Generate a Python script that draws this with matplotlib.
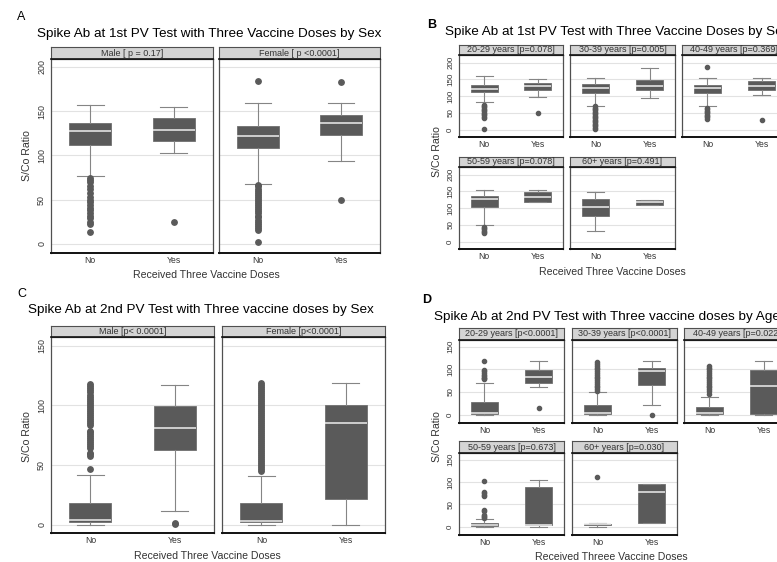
import matplotlib.pyplot as plt

plt.rcParams['font.family'] = ['Liberation Sans', 'DejaVu Sans']

W, H = 777, 562
fig = plt.figure(figsize=(W / 100, H / 100), dpi=100)

box_col = '#5a5a5a'
whisk_col = '#858585'
med_col = '#eeeeee'
grid_col = '#e2e2e2'
strip_col = '#d4d4d4'

groups = ["No", "Yes"]

# five-number summaries per facet: (whislo, q1, med, q3, whishi) for No / Yes
a_facets = ["Male [ p = 0.17]", "Female [ p <0.0001]"]
a_boxes = [[(76.7, 111.7, 127.5, 136.2, 157.0), (102.4, 116.6, 128.7, 141.8, 154.3)],
           [(68.0, 108.0, 122.2, 133.5, 159.5), (93.7, 123.0, 136.2, 145.6, 158.8)]]
a_fliers = [[[13.5, 22, 25, 29, 32, 35, 38, 41, 44, 47, 50, 53, 58, 62, 65, 70, 72, 74], [24.5]],
            [[1.9, 16, 18, 20.5, 23, 25, 27.5, 30, 32, 34.5, 37, 39, 41.5, 44, 46, 48.5, 51,
              53, 55.5, 58, 60, 62.5, 65, 66.5, 184.3], [49.7, 183.2]]]

b_facets = ["20-29 years [p=0.078]", "30-39 years [p=0.005]", "40-49 years [p=0.369]",
            "50-59 years [p=0.078]", "60+ years [p=0.491]"]
b_boxes = [[(82, 112, 122, 134, 158.6), (98, 118, 130, 140, 150)],
           [(72, 109, 124, 136, 154), (94, 119, 131, 147, 183.6)],
           [(71.4, 109, 124, 134, 154), (104, 119, 131, 144, 154)],
           [(50, 103, 126, 136, 154), (118, 119, 134, 147, 154)],
           [(33, 77, 103, 126, 149), (110, 110, 117, 124, 124)]]
b_fliers = [[[2, 35, 39, 43, 47, 51, 55, 59, 63, 67, 71, 74], [50]],
            [[2, 6, 10, 14, 18, 22, 26, 30, 34, 38, 42, 46, 50, 54, 58, 62, 66, 70], []],
            [[33, 37, 41, 45, 49, 53, 57, 61, 64.5, 185.4], [27.7]],
            [[25, 29, 33, 37, 41, 45], []],
            [[], []]]

c_facets = ["Male [p< 0.0001]", "Female [p<0.0001]"]
c_boxes = [[(0, 2.2, 3.9, 18.1, 41.8), (11.4, 62.4, 81.1, 99.7, 117.0)],
           [(0, 2.2, 3.3, 18.1, 41.3), (0, 21.7, 85.5, 100.6, 119.0)]]
c_fliers = [[[46.5, 57.5, 59, 60.5, 64.5, 66, 67.5, 69, 71, 72.5, 74, 76, 77.5, 79, 84, 85.5,
              87, 89, 90.5, 92, 94, 95.5, 97, 99, 100.5, 102, 104, 105.5, 107, 109, 111,
              112.5, 114.5, 116, 117.5], [0.5, 1.5]],
            [[45.5, 47, 48.5, 50, 52, 53.5, 55, 57, 58.5, 60, 62, 63.5, 65, 67, 68.5, 70, 72,
              73.5, 75, 77, 78.5, 80, 82, 83.5, 85, 87, 88.5, 90, 92, 93.5, 95, 97, 98.5, 100,
              102, 103.5, 105, 107, 108.5, 110, 112, 113.5, 115, 117, 119], []]]

d_facets = ["20-29 years [p<0.0001]", "30-39 years [p<0.0001]", "40-49 years [p=0.022]",
            "50-59 years [p=0.673]", "60+ years [p=0.030]"]
d_boxes = [[(0, 1.5, 3, 27.5, 70.8), (61, 70.8, 83, 99.7, 118)],
           [(0, 1.5, 3, 21.6, 50), (21.6, 64.7, 96.7, 102, 118)],
           [(0, 1.5, 3.7, 16.4, 40), (0, 1.5, 63, 98, 118)],
           [(0, 2, 3.5, 8.8, 17.6), (0, 3, 4, 88, 104)],
           [(0, 3, 5, 6.6, 9), (9, 9, 78.6, 95.6, 95.6)]]
d_fliers = [[[78, 80, 82, 85, 88, 92, 96, 98, 118], [14]],
            [[52, 56, 60, 64, 68, 72, 76, 80, 84, 88, 92, 96, 100, 104, 108, 112, 116], [0]],
            [[46, 52, 56, 60, 64, 68, 72, 76, 80, 84, 88, 92, 96, 100, 104, 108], []],
            [[20, 22, 25, 27, 35, 38, 69, 72, 75, 77, 102], []],
            [[112], []]]


def px_axes(x0, y0, x1, y1):
    return fig.add_axes([x0 / W, 1 - y1 / H, (x1 - x0) / W, (y1 - y0) / H])


def ftext(x, y, s, **kw):
    fig.text(x / W, 1 - y / H, s, **kw)


def facet(x0, x1, strip_top, top, bottom, label, boxes, fliers, ylim, yticks,
          show_y, small):
    ax = px_axes(x0, top, x1, bottom)
    stats = []
    for (lo, q1, med, q3, hi), fl in zip(boxes, fliers):
        stats.append(dict(whislo=lo, q1=q1, med=med, q3=q3, whishi=hi, fliers=fl))
    ms = 3.0 if small else 3.9
    ax.bxp(stats, positions=[1, 2], widths=0.5, capwidths=0.32, patch_artist=True,
           boxprops=dict(facecolor=box_col, edgecolor='#707070', linewidth=0.6),
           medianprops=dict(color=med_col, linewidth=1.1),
           whiskerprops=dict(color=whisk_col, linewidth=0.8),
           capprops=dict(color=whisk_col, linewidth=0.8),
           flierprops=dict(marker='o', markersize=ms, markerfacecolor=box_col,
                           markeredgecolor=box_col))
    ax.set_xlim(0.53, 2.47)
    ax.set_ylim(*ylim)
    ax.set_yticks(yticks)
    ax.set_xticks([1, 2])
    ax.set_xticklabels(groups)
    ax.yaxis.grid(True, color=grid_col, linewidth=0.8)
    ax.set_axisbelow(True)
    ax.tick_params(axis='x', length=0, pad=2, labelsize=6.2, colors='#333333')
    ax.tick_params(axis='y', length=0, pad=3.5, labelsize=5.8 if small else 6.4,
                   labelrotation=90, labelleft=show_y, colors='#333333')
    for t in ax.get_yticklabels():
        t.set_va('center')
    for side in ['left', 'right', 'top']:
        ax.spines[side].set_color('#505050')
        ax.spines[side].set_linewidth(0.9)
    ax.spines['bottom'].set_color('#111111')
    ax.spines['bottom'].set_linewidth(1.4)

    st = px_axes(x0, strip_top, x1, top)
    st.set_facecolor(strip_col)
    st.set_xticks([])
    st.set_yticks([])
    for side in st.spines.values():
        side.set_color('#505050')
        side.set_linewidth(0.8)
    st.spines['bottom'].set_color('#111111')
    st.spines['bottom'].set_linewidth(1.2)
    st.text(0.5, 0.5, label, ha='center', va='center', fontsize=6.5, color='#333333',
            transform=st.transAxes)
    return ax


title_fs = 9.7
lab_fs = 7.6

# A: first test, by sex
for i, (x0, x1) in enumerate([(51, 213), (219, 380)]):
    facet(x0, x1, 47, 59, 253, a_facets[i], a_boxes[i], a_fliers[i],
          (-10.2, 208.8), [0, 50, 100, 150, 200], i == 0, False)
ftext(21, 17, "A", fontsize=9, ha='center', va='center')
ftext(37, 34, "Spike Ab at 1st PV Test with Three Vaccine Doses by Sex",
      fontsize=title_fs, ha='left', va='center')
ftext(206, 275, "Received Three Vaccine Doses", fontsize=lab_fs, ha='center', va='center',
      color='#333333')
ftext(27, 156, "S/Co Ratio", fontsize=lab_fs, rotation=90, ha='center', va='center',
      color='#333333')

# B: first test, by age group
b_pos = [(459, 563, 45, 55, 137), (570, 675, 45, 55, 137), (682, 787, 45, 55, 137),
         (459, 563, 157, 167, 249), (570, 675, 157, 167, 249)]
for i, (x0, x1, s, t, b) in enumerate(b_pos):
    facet(x0, x1, s, t, b, b_facets[i], b_boxes[i], b_fliers[i],
          (-21.5, 222.5), [0, 50, 100, 150, 200], x0 == 459, True)
ftext(432, 25, "B", fontsize=9, fontweight='bold', ha='center', va='center')
ftext(445, 32, "Spike Ab at 1st PV Test with Three Vaccine Doses by Sex",
      fontsize=title_fs, ha='left', va='center')
ftext(612.5, 272, "Received Three Vaccine Doses", fontsize=lab_fs, ha='center',
      va='center', color='#333333')
ftext(437, 152, "S/Co Ratio", fontsize=lab_fs, rotation=90, ha='center', va='center',
      color='#333333')

# C: second test, by sex
for i, (x0, x1) in enumerate([(51, 214), (222, 385)]):
    facet(x0, x1, 326, 337, 533, c_facets[i], c_boxes[i], c_fliers[i],
          (-6.7, 157.2), [0, 50, 100, 150], i == 0, False)
ftext(22, 294, "C", fontsize=9, ha='center', va='center')
ftext(28, 310, "Spike Ab at 2nd PV Test with Three vaccine doses by Sex",
      fontsize=title_fs, ha='left', va='center')
ftext(207.5, 556, "Received Three Vaccine Doses", fontsize=lab_fs, ha='center',
      va='center', color='#333333')
ftext(27, 437, "S/Co Ratio", fontsize=lab_fs, rotation=90, ha='center', va='center',
      color='#333333')

# D: second test, by age group
d_pos = [(459, 564, 328, 340, 423), (572, 677, 328, 340, 423), (684, 789, 328, 340, 423),
         (459, 564, 441, 453, 535), (572, 677, 441, 453, 535)]
for i, (x0, x1, s, t, b) in enumerate(d_pos):
    facet(x0, x1, s, t, b, d_facets[i], d_boxes[i], d_fliers[i],
          (-18.5, 165), [0, 50, 100, 150], x0 == 459, True)
ftext(427, 300, "D", fontsize=9, fontweight='bold', ha='center', va='center')
ftext(434, 317, "Spike Ab at 2nd PV Test with Three vaccine doses by Age",
      fontsize=title_fs, ha='left', va='center')
ftext(611.7, 556.7, "Received Threee Vaccine Doses", fontsize=lab_fs, ha='center',
      va='center', color='#333333')
ftext(437, 437, "S/Co Ratio", fontsize=lab_fs, rotation=90, ha='center', va='center',
      color='#333333')

fig.savefig("out.png", dpi=100)
